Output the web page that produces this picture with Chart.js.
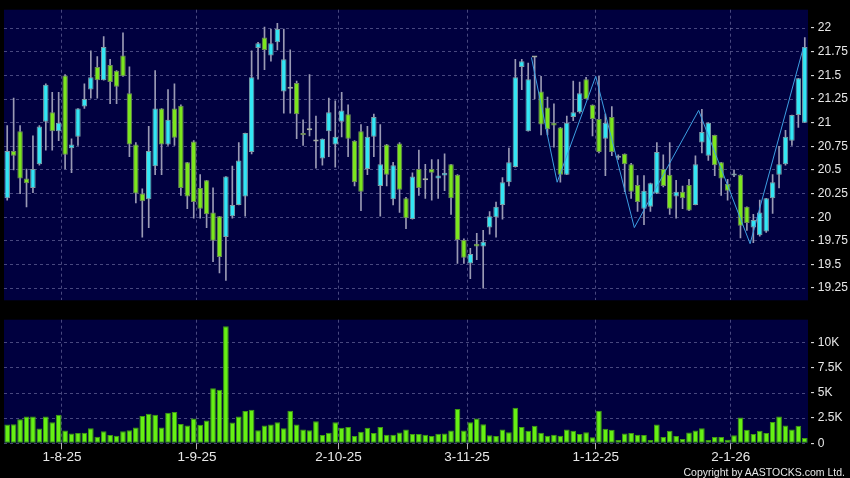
<!DOCTYPE html>
<html lang="en">
<head>
  <meta charset="utf-8">
  <title>Daily chart</title>
  <script src="https://cdn.jsdelivr.net/npm/chart.js"></script>
  <style>
    body { margin: 0; background: #000; }
    .wrap { position: relative; width: 850px; height: 478px; background: #000; }
    .pricebox { position: absolute; left: 0; top: 0; width: 850px; height: 310px; }
    .volbox { position: absolute; left: 0; top: 310px; width: 850px; height: 168px; }
    .copy {
      position: absolute; right: 5px; top: 467px;
      font: 10.5px "Liberation Sans", Arial, sans-serif; line-height: 10.5px;
      color: #e6e6e6; white-space: nowrap;
    }
  </style>
</head>
<body>
<div class="wrap">
  <div class="pricebox"><canvas id="priceChart"></canvas></div>
  <div class="volbox"><canvas id="volChart"></canvas></div>
  <div class="copy">Copyright by AASTOCKS.com Ltd.</div>
</div>

<script>
// daily candles, one per session (index 0 = first session shown)
const opens = [
  20.20, 20.70, 20.91, 20.41, 20.31, 20.56, 21.01, 21.11, 20.91, 21.50,
  20.73, 20.85, 21.17, 21.35, 21.59, 21.45, 21.61, 21.55, 21.71, 21.31,
  20.77, 20.25, 20.19, 20.54, 21.15, 20.77, 21.15, 21.18, 20.58, 20.80,
  20.31, 20.39, 20.05, 20.01, 19.79, 20.01, 20.13, 20.22, 20.69, 21.79,
  21.90, 21.71, 21.85, 21.33, 21.36, 21.42, 20.89, 20.92, 20.80, 20.62,
  20.91, 20.77, 21.01, 21.09, 20.81, 20.91, 20.51, 20.85, 20.33, 20.77,
  20.19, 20.78, 20.20, 19.98, 20.51, 20.39, 20.51, 20.41, 20.44, 20.56,
  20.45, 19.76, 19.51, 19.72, 19.69, 19.89, 20.00, 20.13, 20.37, 20.53,
  21.59, 20.91, 21.69, 21.33, 21.16, 21.00, 20.95, 20.45, 21.06, 21.11,
  21.46, 21.19, 21.04, 20.83, 21.06, 20.63, 20.67, 20.56, 20.34, 20.09,
  20.11, 20.25, 20.51, 20.45, 20.22, 20.27, 20.34, 20.13, 20.79, 20.65,
  20.87, 20.58, 20.35, 20.44, 20.45, 20.11, 19.89, 19.81, 19.85, 20.20,
  20.45, 20.56, 20.81, 21.08, 21.00
];
const highs = [
  20.97, 21.26, 20.97, 20.51, 20.86, 20.97, 21.41, 21.32, 21.32, 21.51,
  20.83, 21.15, 21.41, 21.76, 21.70, 21.91, 21.67, 21.55, 21.95, 21.59,
  20.79, 20.30, 20.96, 21.55, 21.15, 21.35, 21.41, 21.19, 20.58, 20.81,
  20.45, 20.39, 20.31, 20.01, 20.43, 20.54, 20.79, 20.89, 21.76, 21.85,
  22.01, 21.99, 22.05, 21.99, 21.77, 21.44, 21.03, 21.51, 21.07, 20.83,
  21.26, 21.23, 21.32, 21.19, 20.81, 20.98, 20.96, 21.09, 20.98, 20.77,
  20.58, 20.79, 20.21, 20.47, 20.71, 20.56, 20.61, 20.61, 20.67, 20.56,
  20.45, 19.77, 19.67, 19.83, 19.86, 20.06, 20.16, 20.42, 20.73, 21.67,
  21.67, 21.63, 21.69, 21.49, 21.27, 21.20, 20.95, 21.07, 21.44, 21.43,
  21.48, 21.19, 21.49, 21.09, 21.17, 20.66, 20.67, 20.57, 20.44, 20.44,
  20.36, 20.79, 20.66, 20.79, 20.39, 20.33, 20.40, 20.65, 21.14, 21.00,
  20.87, 20.58, 20.40, 20.50, 20.45, 20.11, 20.03, 20.18, 20.20, 20.45,
  20.75, 20.92, 21.08, 21.47, 21.90
];
const lows = [
  20.18, 20.50, 20.25, 20.11, 20.26, 20.55, 20.71, 20.71, 20.81, 20.51,
  20.47, 20.76, 21.15, 21.26, 21.26, 21.45, 21.20, 21.20, 21.49, 20.64,
  20.15, 19.79, 19.89, 20.45, 20.45, 20.76, 20.76, 20.23, 20.09, 19.99,
  19.99, 19.89, 19.53, 19.41, 19.33, 19.99, 20.13, 20.01, 20.67, 21.46,
  21.56, 21.65, 21.77, 21.10, 21.10, 20.83, 20.76, 20.86, 20.52, 20.55,
  20.64, 20.53, 20.85, 20.64, 20.33, 20.07, 20.45, 20.64, 20.01, 20.33,
  20.13, 20.05, 19.88, 19.98, 20.23, 20.20, 20.18, 20.20, 20.28, 20.03,
  19.51, 19.51, 19.35, 19.55, 19.25, 19.82, 19.79, 19.98, 20.33, 20.53,
  21.35, 20.91, 21.25, 20.87, 20.87, 20.74, 20.37, 20.45, 21.02, 21.10,
  21.25, 20.86, 20.68, 20.44, 20.65, 20.61, 20.27, 20.20, 20.06, 19.92,
  20.06, 20.25, 20.32, 20.03, 19.99, 20.09, 20.07, 20.13, 20.68, 20.60,
  20.44, 20.23, 20.18, 20.43, 19.78, 19.86, 19.73, 19.80, 19.84, 20.04,
  20.31, 20.55, 20.76, 20.95, 21.00
];
const closes = [
  20.70, 20.65, 20.41, 20.36, 20.51, 20.96, 21.40, 20.91, 21.00, 20.66,
  20.77, 21.15, 21.25, 21.48, 21.45, 21.80, 21.43, 21.38, 21.49, 20.77,
  20.25, 20.17, 20.70, 21.15, 20.77, 21.03, 20.84, 20.31, 20.22, 20.16,
  20.09, 20.03, 19.75, 19.58, 20.43, 20.13, 20.60, 20.89, 21.48, 21.84,
  21.77, 21.84, 21.99, 21.67, 21.36, 21.09, 20.87, 20.92, 20.80, 20.83,
  21.11, 20.85, 21.13, 20.83, 20.37, 20.27, 20.85, 21.06, 20.56, 20.45,
  20.55, 20.29, 19.99, 20.43, 20.31, 20.39, 20.47, 20.44, 20.47, 20.20,
  19.76, 19.57, 19.61, 19.69, 19.74, 20.01, 20.11, 20.37, 20.58, 21.48,
  21.65, 21.46, 21.69, 20.98, 20.93, 20.97, 20.45, 21.00, 21.11, 21.31,
  21.25, 21.04, 20.69, 21.00, 20.69, 20.65, 20.56, 20.27, 20.16, 20.28,
  20.36, 20.69, 20.33, 20.09, 20.27, 20.20, 20.07, 20.56, 20.90, 21.00,
  20.55, 20.41, 20.28, 20.45, 19.91, 19.94, 19.97, 20.05, 20.20, 20.37,
  20.56, 20.85, 21.08, 21.47, 21.80
];
// turnover in thousands
const volumes = [
  1.87, 1.90, 2.39, 2.66, 2.66, 1.48, 2.66, 2.10, 2.85, 1.28,
  0.98, 1.02, 1.05, 1.51, 0.66, 1.21, 0.82, 0.75, 1.21, 1.31,
  1.57, 2.72, 2.95, 2.85, 1.57, 3.05, 3.11, 1.93, 1.77, 2.46,
  1.84, 2.26, 5.48, 5.34, 11.64, 2.07, 2.66, 3.21, 3.34, 1.31,
  1.77, 1.87, 2.10, 1.51, 3.25, 1.87, 1.38, 1.31, 2.20, 0.82,
  1.05, 2.10, 1.54, 1.61, 0.72, 1.15, 1.54, 1.02, 1.61, 0.85,
  0.85, 1.08, 1.38, 0.92, 0.92, 0.85, 0.72, 0.95, 0.98, 1.28,
  3.41, 1.28, 2.10, 2.46, 1.90, 0.79, 0.72, 1.38, 1.11, 3.54,
  1.61, 1.25, 1.74, 1.05, 0.75, 0.85, 0.75, 1.38, 1.25, 0.92,
  1.11, 0.59, 3.25, 1.44, 1.34, 0.33, 0.98, 1.02, 0.85, 0.82,
  0.33, 1.87, 0.62, 1.25, 0.72, 0.43, 1.08, 1.28, 1.51, 0.33,
  0.62, 0.62, 0.36, 0.79, 2.56, 1.34, 0.92, 1.25, 1.02, 2.13,
  2.66, 1.77, 1.38, 1.74, 0.52
];

// zigzag overlay (session position, price)
const zigzagX = [81.5, 85.5, 91.5, 97.5, 107.5, 115.5, 123.8];
const zigzagY = [21.69, 20.37, 21.49, 19.89, 21.13, 19.72, 21.80];

// axis ticks
const priceTicks = [19.25, 19.5, 19.75, 20, 20.25, 20.5, 20.75, 21, 21.25, 21.5, 21.75, 22];
const volumeTicks = [0, 2.5, 5, 7.5, 10];
const dateTickPos = [8.5, 29.5, 51.5, 71.5, 91.5, 112.5];
const dateTickLabels = ['1-8-25', '1-9-25', '2-10-25', '3-11-25', '1-12-25', '2-1-26'];

const CYAN = '#33e6f4', CYAN_EDGE = '#7f9ea6';
const GREEN = '#7ce61e', GREEN_EDGE = '#6f8a5c';
const GRAY = '#a4aca0';
const WICK = '#9a9ab4';
const GRID = 'rgba(120,120,170,0.6)';
const LABEL = '#e8e8e8';

Chart.defaults.font.family = '"Liberation Sans", Arial, sans-serif';
Chart.defaults.animation = false;

// navy fill behind the plot area only
const plotBg = {
  id: 'plotBg',
  beforeDraw(chart) {
    const a = chart.chartArea;
    const ctx = chart.ctx;
    ctx.save();
    ctx.fillStyle = '#00003f';
    ctx.fillRect(a.left, a.top, a.right - a.left, a.bottom - a.top);
    ctx.restore();
  }
};

const bodyFill = closes.map((c, i) => c > opens[i] ? CYAN : (c < opens[i] ? GREEN : GRAY));
const bodyEdge = closes.map((c, i) => c > opens[i] ? CYAN_EDGE : (c < opens[i] ? GREEN_EDGE : GRAY));

function xAxis(showLabels) {
  return {
    type: 'linear',
    offset: false,
    min: -0.5,
    max: closes.length - 0.5,
    afterBuildTicks: axis => { axis.ticks = dateTickPos.map(v => ({ value: v })); },
    afterFit: axis => { axis.height = showLabels ? 34.7 : 0; },
    border: { display: false, dash: [3, 3] },
    grid: {
      offset: false,
      color: GRID,
      drawTicks: showLabels,
      tickLength: 6,
      tickColor: '#b0b0b0',
      tickBorderDash: []
    },
    ticks: {
      display: showLabels,
      autoSkip: false,
      maxRotation: 0,
      padding: 0,
      color: LABEL,
      font: { size: 13.5 },
      callback: v => dateTickLabels[dateTickPos.indexOf(v)]
    }
  };
}

new Chart(document.getElementById('priceChart'), {
  type: 'bar',
  data: {
    datasets: [
      {
        type: 'line',
        label: 'zigzag',
        data: zigzagX.map((x, k) => ({ x: x, y: zigzagY[k] })),
        borderColor: '#3c9ee2',
        borderWidth: 1,
        pointRadius: 0,
        tension: 0,
        order: 0
      },
      {
        label: 'body',
        data: closes.map((c, i) => ({ x: i, y: [opens[i], c] })),
        backgroundColor: bodyFill,
        borderColor: bodyEdge,
        borderWidth: 1,
        borderSkipped: false,
        minBarLength: 2,
        grouped: false,
        barPercentage: 1,
        categoryPercentage: 0.85,
        order: 1
      },
      {
        label: 'wick',
        data: highs.map((h, i) => ({ x: i, y: [lows[i], h] })),
        backgroundColor: WICK,
        borderWidth: 0,
        barThickness: 1,
        grouped: false,
        order: 2
      }
    ]
  },
  options: {
    responsive: true,
    maintainAspectRatio: false,
    devicePixelRatio: 1,
    layout: { padding: { left: 4, right: 0, top: 5, bottom: 5 } },
    plugins: { legend: { display: false }, tooltip: { enabled: false } },
    scales: {
      x: xAxis(false),
      y: {
        position: 'right',
        min: 19.121,
        max: 22.195,
        afterBuildTicks: axis => { axis.ticks = priceTicks.map(v => ({ value: v })); },
        afterFit: axis => { axis.width = 42; },
        border: { display: false, dash: [3, 3] },
        grid: { color: GRID, drawTicks: false },
        ticks: {
          padding: 2.5,
          color: LABEL,
          font: { size: 12 },
          callback: v => '- ' + v
        }
      }
    }
  },
  plugins: [plotBg]
});

new Chart(document.getElementById('volChart'), {
  type: 'bar',
  data: {
    datasets: [{
      label: 'volume',
      data: volumes.map((v, i) => ({ x: i, y: v })),
      backgroundColor: '#66f014',
      borderColor: '#3f9a12',
      borderWidth: 1,
      borderSkipped: false,
      grouped: false,
      barPercentage: 1,
      categoryPercentage: 0.88
    }]
  },
  options: {
    responsive: true,
    maintainAspectRatio: false,
    devicePixelRatio: 1,
    layout: { padding: { left: 4, right: 0, top: 8.5, bottom: 0 } },
    plugins: { legend: { display: false }, tooltip: { enabled: false } },
    scales: {
      x: xAxis(true),
      y: {
        position: 'right',
        min: 0,
        max: 12.3,
        afterBuildTicks: axis => { axis.ticks = volumeTicks.map(v => ({ value: v })); },
        afterFit: axis => { axis.width = 42; },
        border: { display: false, dash: [3, 3] },
        grid: { color: GRID, drawTicks: false },
        ticks: {
          padding: 2.5,
          color: LABEL,
          font: { size: 12 },
          callback: v => '- ' + (v === 0 ? '0' : v + 'K')
        }
      }
    }
  },
  plugins: [plotBg]
});
</script>
</body>
</html>
